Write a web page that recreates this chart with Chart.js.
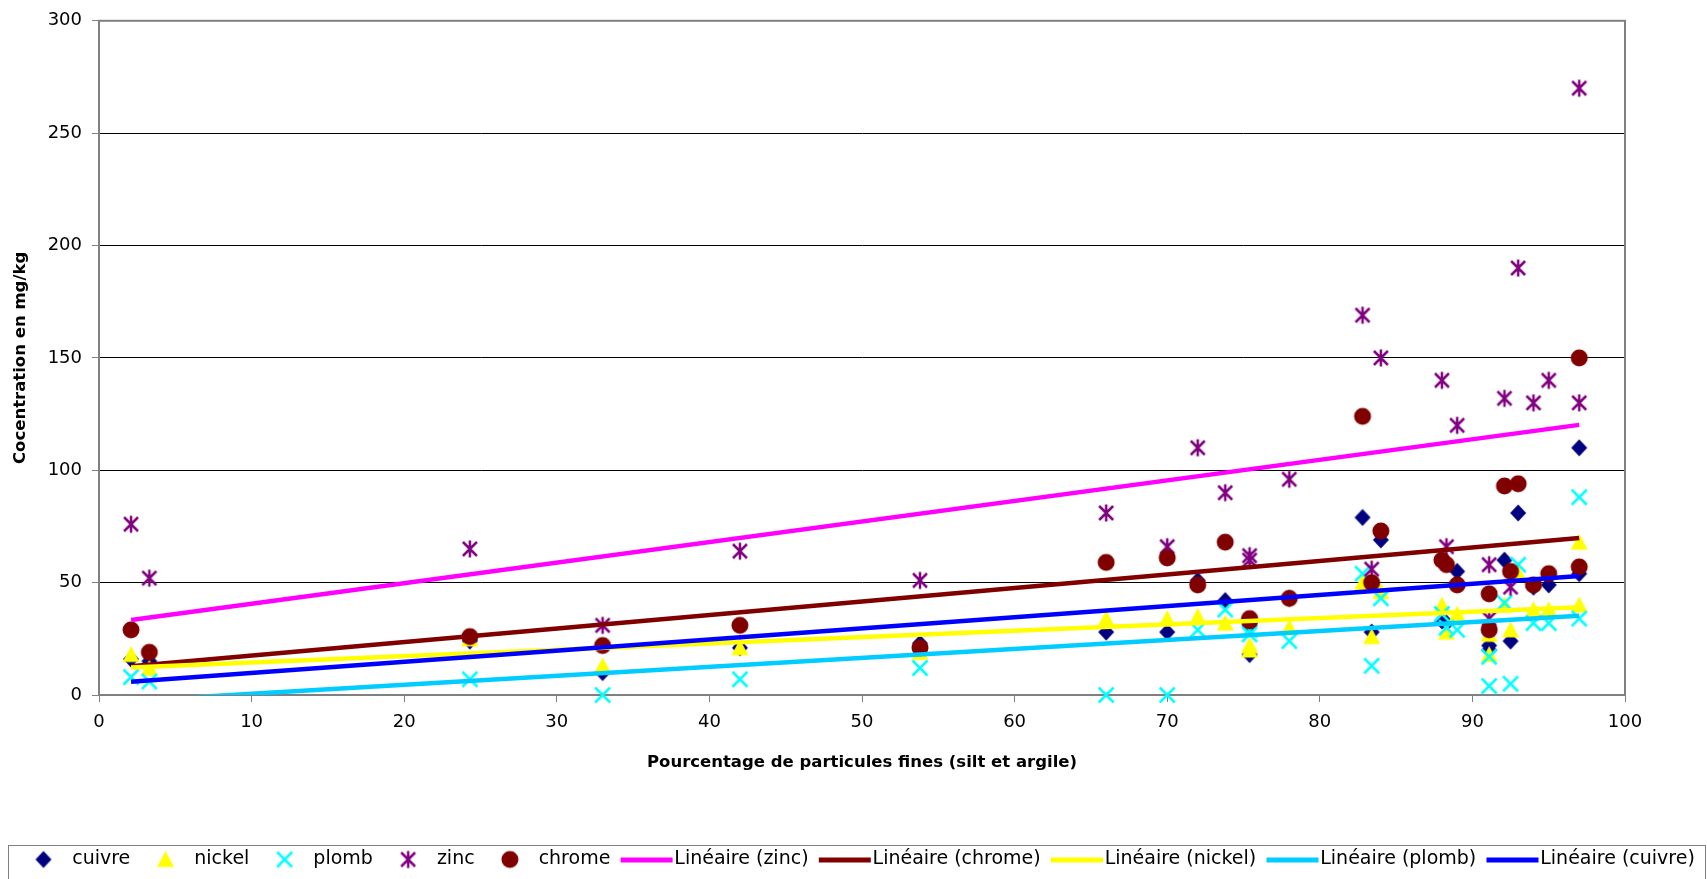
<!DOCTYPE html>
<html>
<head>
<meta charset="utf-8">
<script src="https://cdn.jsdelivr.net/npm/chart.js@4.4.0/dist/chart.umd.min.js"></script>
<style>
  html, body { margin: 0; padding: 0; background: #fff; }
  #wrap { width: 1707px; height: 879px; }
</style>
</head>
<body>
<div id="wrap"><canvas id="chart" width="1707" height="879"></canvas></div>
<script>
// sample positions (% fines) and concentrations
const xValues = [2.1, 3.3, 24.3, 33, 42, 53.8, 66, 70, 72, 73.8, 75.4, 75.4, 78, 82.8, 83.4, 84, 88, 88.3, 89, 91.1, 91.1, 92.1, 92.5, 93, 94, 95, 97, 97];
const cuivre = [16, 15, 24, 10, 21, 23, 28, 28, 51, 42, 18, 31, 43, 79, 28, 69, 33, 32, 55, 22, 20, 60, 24, 81, 48, 49, 110, 54];
const nickel = [18, 12, 25, 13, 21, 19, 34, 34, 35, 32, 20, 22, 30, 50, 26, 46, 40, 28, 36, 27, 18, 40, 29, 54, 38, 38, 68, 40];
const plomb = [8, 6, 7, 0, 7, 12, 0, 0, 29, 38, 29, 27, 24, 54, 13, 43, 36, 30, 29, 17, 4, 41, 5, 58, 32, 32, 88, 34];
const zinc = [76, 52, 65, 31, 64, 51, 81, 66, 110, 90, 62, 60, 96, 169, 56, 150, 140, 66, 120, 58, 34, 132, 48, 190, 130, 140, 270, 130];
const chrome = [29, 19, 26, 22, 31, 21, 59, 61, 49, 68, 34, 33, 43, 124, 50, 73, 60, 58, 49, 45, 29, 93, 55, 94, 49, 54, 150, 57];

// linear trend lines, end points
const trendX = [2.1, 97];
const zincTrend = [33.4, 120.2];
const chromeTrend = [12.8, 69.9];
const nickelTrend = [12.2, 39.0];
const plombTrend = [-2.6, 35.3];
const cuivreTrend = [5.9, 53.0];

const xTicks = [0, 10, 20, 30, 40, 50, 60, 70, 80, 90, 100];
const yTicks = [0, 50, 100, 150, 200, 250, 300];

const FONT = "DejaVu Sans";

// draw a marker shape on a small canvas, used as pointStyle
function drawShape(g, kind, color, cx, cy) {
  g.fillStyle = color;
  g.strokeStyle = color;
  g.lineWidth = 2.5;
  g.beginPath();
  if (kind === "diamond") {
    g.moveTo(cx, cy - 8.5); g.lineTo(cx + 8, cy); g.lineTo(cx, cy + 8.5); g.lineTo(cx - 8, cy);
    g.closePath(); g.fill();
  } else if (kind === "triangle") {
    g.moveTo(cx, cy - 8.5); g.lineTo(cx + 8.5, cy + 7.5); g.lineTo(cx - 8.5, cy + 7.5);
    g.closePath(); g.fill();
  } else if (kind === "cross") {
    g.moveTo(cx - 7.5, cy - 7.5); g.lineTo(cx + 7.5, cy + 7.5);
    g.moveTo(cx + 7.5, cy - 7.5); g.lineTo(cx - 7.5, cy + 7.5);
    g.stroke();
  } else if (kind === "star") {
    g.moveTo(cx - 7, cy - 7); g.lineTo(cx + 7, cy + 7);
    g.moveTo(cx + 7, cy - 7); g.lineTo(cx - 7, cy + 7);
    g.moveTo(cx, cy - 8.5); g.lineTo(cx, cy + 8.5);
    g.stroke();
  } else if (kind === "circle") {
    g.arc(cx, cy, 8.5, 0, Math.PI * 2); g.fill();
  }
}

function markerImg(kind, color) {
  const c = document.createElement("canvas");
  c.width = 22; c.height = 22;
  drawShape(c.getContext("2d"), kind, color, 11, 11);
  return c;
}

// legend icons: marker sits close to its text, lines run up to the text
function legendMarker(kind, color) {
  const c = document.createElement("canvas");
  c.width = 68; c.height = 20;
  drawShape(c.getContext("2d"), kind, color, 40, 10);
  return c;
}
function legendLine(color) {
  const c = document.createElement("canvas");
  c.width = 68; c.height = 20;
  const g = c.getContext("2d");
  g.fillStyle = color;
  g.fillRect(15, 8, 52, 5);
  return c;
}

const pts = (ys) => xValues.map((x, i) => ({ x: x, y: ys[i] }));
const trend = (ys) => trendX.map((x, i) => ({ x: x, y: ys[i] }));

function scatterSet(label, ys, kind, color, order) {
  return {
    label: label,
    data: pts(ys),
    pointStyle: markerImg(kind, color),
    pointRadius: 8,
    showLine: false,
    clip: false,
    order: order,
    legendIcon: legendMarker(kind, color),
  };
}

function trendSet(label, ys, color, order) {
  return {
    label: label,
    data: trend(ys),
    showLine: true,
    borderColor: color,
    borderWidth: 4.5,
    pointRadius: 0,
    fill: false,
    clip: 0,
    order: order,
    legendIcon: legendLine(color),
  };
}

const plotBorder = {
  id: "plotBorder",
  beforeDatasetsDraw(chart) {
    const { ctx, chartArea: a } = chart;
    ctx.save();
    ctx.strokeStyle = "#808080";
    ctx.lineWidth = 2;
    ctx.strokeRect(a.left, a.top, a.right - a.left, a.bottom - a.top);
    ctx.restore();
  },
  afterDraw(chart) {
    const { ctx, legend } = chart;
    ctx.save();
    ctx.strokeStyle = "#808080";
    ctx.lineWidth = 1;
    ctx.strokeRect(8.5, legend.top - 0.5, chart.width - 10, 40);
    ctx.restore();
  },
};

new Chart(document.getElementById("chart"), {
  type: "scatter",
  data: {
    datasets: [
      scatterSet("cuivre", cuivre, "diamond", "#000080", 10),
      scatterSet("nickel", nickel, "triangle", "#FFFF00", 9),
      scatterSet("plomb", plomb, "cross", "#00FFFF", 8),
      scatterSet("zinc", zinc, "star", "#800080", 7),
      scatterSet("chrome", chrome, "circle", "#800000", 6),
      trendSet("Linéaire (zinc)", zincTrend, "#FF00FF", 5),
      trendSet("Linéaire (chrome)", chromeTrend, "#800000", 4),
      trendSet("Linéaire (nickel)", nickelTrend, "#FFFF00", 3),
      trendSet("Linéaire (plomb)", plombTrend, "#00CCFF", 2),
      trendSet("Linéaire (cuivre)", cuivreTrend, "#0000FF", 1),
    ],
  },
  options: {
    responsive: false,
    animation: false,
    devicePixelRatio: 1,
    layout: { padding: { top: 17, left: 0, right: 0, bottom: 0 } },
    plugins: {
      tooltip: { enabled: false },
      legend: {
        position: "bottom",
        labels: {
          usePointStyle: true,
          pointStyleWidth: 50.5,
          padding: 4,
          color: "#000",
          font: { family: FONT, size: 19 },
          generateLabels: (chart) =>
            chart.data.datasets.map((ds, i) => ({
              text: ds.label,
              pointStyle: ds.legendIcon,
              datasetIndex: i,
              hidden: false,
              lineWidth: 0,
              fontColor: "#000",
            })),
        },
        onClick: () => {},
      },
    },
    scales: {
      x: {
        type: "linear",
        min: 0,
        max: 100,
        afterBuildTicks: (s) => { s.ticks = xTicks.map((v) => ({ value: v })); },
        afterFit: (s) => { s.height = 151; },
        grid: { drawOnChartArea: false, drawTicks: true, tickLength: 7, tickColor: "#808080", tickWidth: 1 },
        border: { display: true, color: "#808080", width: 2 },
        ticks: { color: "#000", padding: 10, maxRotation: 0, font: { family: FONT, size: 18 } },
        title: {
          display: true,
          text: "Pourcentage de particules fines (silt et argile)",
          color: "#000",
          font: { family: FONT, size: 16.5, weight: "bold" },
          padding: { top: 0, bottom: 73 },
        },
      },
      y: {
        type: "linear",
        min: 0,
        max: 300,
        afterBuildTicks: (s) => { s.ticks = yTicks.map((v) => ({ value: v })); },
        afterFit: (s) => { s.width = 99; },
        grid: { color: "#000", lineWidth: 1, drawTicks: true, tickLength: 7, tickColor: "#808080" },
        border: { display: true, color: "#808080", width: 2 },
        ticks: { color: "#000", padding: 10, font: { family: FONT, size: 18 } },
        title: {
          display: true,
          text: "Cocentration en mg/kg",
          color: "#000",
          font: { family: FONT, size: 16.5, weight: "bold" },
          padding: { top: 11, bottom: 0 },
        },
      },
      yRight: {
        type: "linear",
        position: "right",
        display: true,
        afterFit: (s) => { s.width = 82; },
        grid: { display: false },
        border: { display: false },
        ticks: { display: false },
      },
    },
  },
  plugins: [plotBorder],
});
</script>
</body>
</html>
